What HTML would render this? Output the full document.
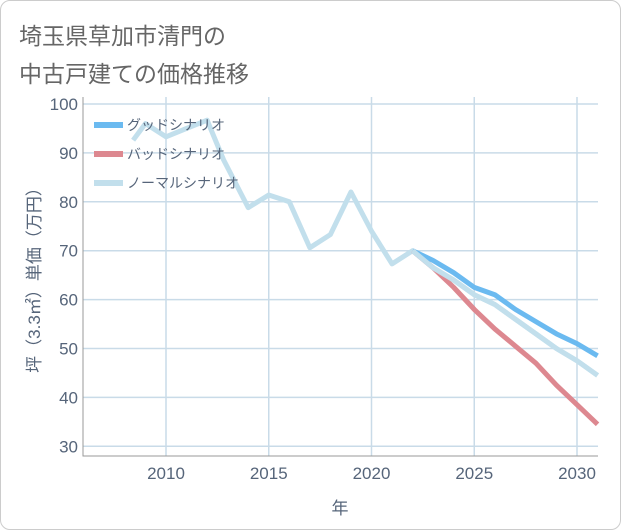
<!DOCTYPE html>
<html><head><meta charset="utf-8"><style>
body{margin:0;background:#fff;}
#card{position:absolute;left:0;top:0;width:619px;height:528px;border:1px solid #ccc;border-radius:10px;background:#fff;}
.title{position:absolute;left:18px;font:23px "Liberation Sans","Noto Sans CJK JP",sans-serif;color:#666;}
svg text{font-family:"Liberation Sans","Noto Sans CJK JP",sans-serif;}
</style></head><body>
<div id="card">
<div class="title" style="top:16px">埼玉県草加市清門の</div>
<div class="title" style="top:54px">中古戸建ての価格推移</div>
</div>
<svg id="chart" width="621" height="530" style="position:absolute;left:0;top:0"></svg>
<script>
const years=[2008.4,2009,2010,2011,2012,2012.8,2014,2015,2016,2017,2018,2019,2020,2021,2022,2023,2024,2025,2026,2027,2028,2029,2030,2031];
const normalVals=[92.6,96,93.3,95,96.7,88.6,78.8,81.4,80,70.6,73.3,82,74,67.3,70,66.5,64,61,59,56,53,50,47.5,44.5];
const futureYears=[2022,2023,2024,2025,2026,2027,2028,2029,2030,2031];
const goodVals=[70,68,65.5,62.5,61,58,55.5,53,51,48.5];
const badVals=[70,66.5,62.5,58,54,50.5,47,42.5,38.5,34.5];
const xTicks=[2010,2015,2020,2025,2030];
const yTicks=[30,40,50,60,70,80,90,100];
const legendLabels=["グッドシナリオ","バッドシナリオ","ノーマルシナリオ"];
const L=83,R=598,T=97,B=456;
const X=v=>166+(v-2010)*20.55;
const Y=v=>104+(100-v)*4.89;
const svg=document.getElementById('chart');
const NS='http://www.w3.org/2000/svg';
const tc='#56657a';
function mk(t,a){const e=document.createElementNS(NS,t);for(const k in a)e.setAttribute(k,a[k]);svg.appendChild(e);return e;}
xTicks.forEach(t=>{const l=mk('line',{x1:X(t),x2:X(t),y1:T,y2:B,stroke:'#c9dbe8','stroke-width':1.5});


const tx=mk('text',{x:X(t),y:479,'text-anchor':'middle','font-size':17,fill:tc});tx.textContent=t;

});
yTicks.forEach(t=>{const l=mk('line',{x1:L,x2:R,y1:Y(t),y2:Y(t),stroke:'#c9dbe8','stroke-width':1.5});


const tx=mk('text',{x:78,y:Y(t)+6,'text-anchor':'end','font-size':17,fill:tc});tx.textContent=t;

});
const ax=mk('path',{d:`M${L},${T}V${B}H${R}`,fill:'none',stroke:'#999','stroke-width':1});


function line(xs,vs,c,n){const p=mk('polyline',{points:xs.map((x,i)=>X(x)+','+Y(vs[i])).join(' '),fill:'none',stroke:c,'stroke-width':5,'stroke-linejoin':'round'});

}
line(years,normalVals,'#c2dfec','normal-scenario-line');
line(futureYears,badVals,'#dd8890','bad-scenario-line');
line(futureYears,goodVals,'#6bbaf0','good-scenario-line');
line(futureYears,normalVals.slice(14),'#c2dfec','normal-scenario-forecast');
const lc=['#6bbaf0','#dd8890','#c2dfec'];
legendLabels.forEach((s,i)=>{const y=125+i*29;
const r=mk('rect',{x:94,y:y-3,width:29,height:6,fill:lc[i]});


const t=mk('text',{x:127,y:y+5,'font-size':14,fill:tc});t.textContent=s;

});
const yt=mk('text',{x:0,y:0,'font-size':17,fill:tc,'text-anchor':'middle',transform:'translate(40,276) rotate(-90)'});yt.textContent='坪（3.3㎡）単価（万円）';


const xt=mk('text',{x:340,y:514,'font-size':17,fill:tc,'text-anchor':'middle'});xt.textContent='年';


</script>
</body></html>
